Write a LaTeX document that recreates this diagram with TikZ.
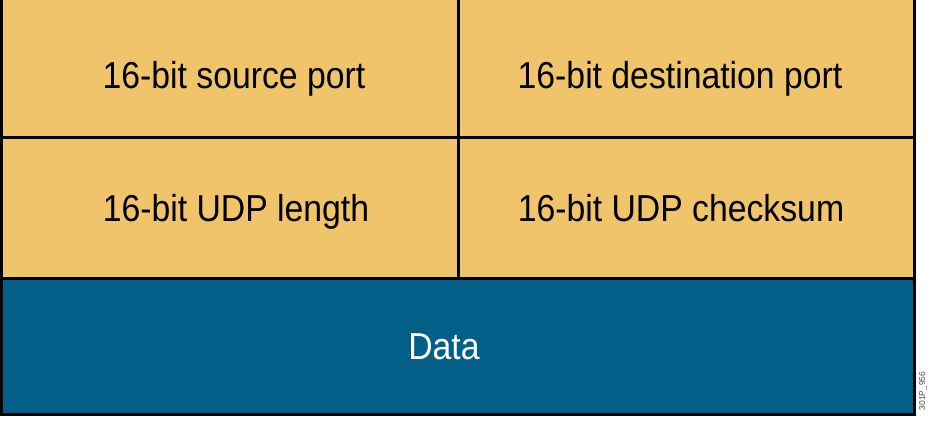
\documentclass[tikz,border=0pt]{standalone}
\usepackage{fontspec}
\setmainfont{Liberation Sans}
\usetikzlibrary{fit}
\definecolor{hdr}{HTML}{EFC46A}
\definecolor{dat}{HTML}{045F88}
\begin{document}
\begin{tikzpicture}[x=1pt,y=-1pt,
  cell/.style={draw=black,line width=3pt,fill=hdr,rectangle,inner sep=0pt,outer sep=0pt},
  datacell/.style={cell,fill=dat},
  lbl/.style={anchor=base,inner sep=0pt,xscale=0.9,font=\fontsize{37.5}{44}\selectfont,text=black},
  dlbl/.style={lbl,text=white},
  code/.style={rotate=90,inner sep=0pt,font=\fontsize{8.5}{9}\selectfont,text=black!70}]
\useasboundingbox (0,0) rectangle (934,422);
\clip (0,0) rectangle (934,422);
\node[cell,fit={(1.5,-6) (458,137.5)}] (sp) {};
\node[cell,fit={(458,-6) (914.5,137.5)}] (dp) {};
\node[cell,fit={(1.5,137.5) (458,278.5)}] (len) {};
\node[cell,fit={(458,137.5) (914.5,278.5)}] (cs) {};
\node[datacell,fit={(1.5,278.5) (914.5,414.5)}] (data) {};
\node[lbl] (tsp) at (234,89) {16-bit source port};
\node[lbl] (tdp) at (680,89) {16-bit destination port};
\node[lbl] (tlen) at (236,222) {16-bit UDP length};
\node[lbl] (tcs) at (681,222) {16-bit UDP checksum};
\node[dlbl] (tdata) at (444,359) {Data};
\node[code] (fig) at (923,391) {301P\_956};
\end{tikzpicture}
\end{document}
